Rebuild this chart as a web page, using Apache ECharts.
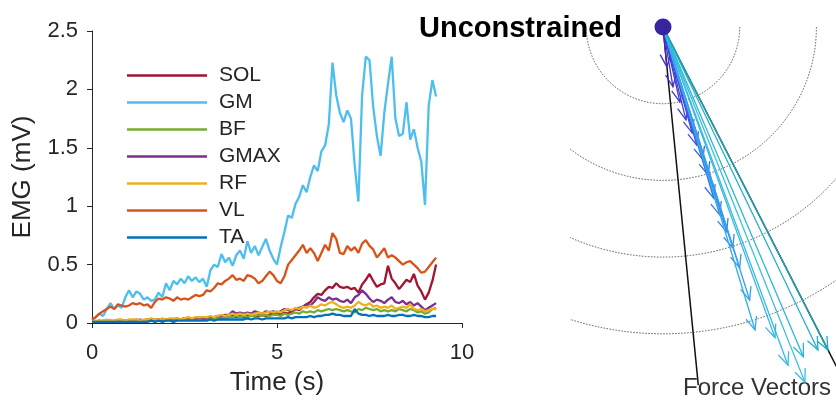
<!DOCTYPE html>
<html>
<head>
<meta charset="utf-8">
<script src="https://cdn.jsdelivr.net/npm/echarts@6/dist/echarts.min.js"></script>
<style>
  html, body { margin: 0; padding: 0; background: #fff; }
  #chart { width: 836px; height: 401px; }
</style>
</head>
<body>
<div id="chart"></div>
<script>
// EMG traces, sampled every 0.1 s
const TIME = [
  0.0, 0.1, 0.2, 0.3, 0.4, 0.5, 0.6, 0.7, 0.8, 0.9,
  1.0, 1.1, 1.2, 1.3, 1.4, 1.5, 1.6, 1.7, 1.8, 1.9,
  2.0, 2.1, 2.2, 2.3, 2.4, 2.5, 2.6, 2.7, 2.8, 2.9,
  3.0, 3.1, 3.2, 3.3, 3.4, 3.5, 3.6, 3.7, 3.8, 3.9,
  4.0, 4.1, 4.2, 4.3, 4.4, 4.5, 4.6, 4.7, 4.8, 4.9,
  5.0, 5.1, 5.2, 5.3, 5.4, 5.5, 5.6, 5.7, 5.8, 5.9,
  6.0, 6.1, 6.2, 6.3, 6.4, 6.5, 6.6, 6.7, 6.8, 6.9,
  7.0, 7.1, 7.2, 7.3, 7.4, 7.5, 7.6, 7.7, 7.8, 7.9,
  8.0, 8.1, 8.2, 8.3, 8.4, 8.5, 8.6, 8.7, 8.8, 8.9,
  9.0, 9.1, 9.2, 9.3
];

const SOL = [
  0.01, 0.01, 0.02, 0.01, 0.02, 0.02, 0.01, 0.02, 0.02, 0.02,
  0.02, 0.02, 0.03, 0.02, 0.02, 0.03, 0.02, 0.03, 0.03, 0.02,
  0.03, 0.03, 0.02, 0.03, 0.03, 0.04, 0.03, 0.03, 0.04, 0.03,
  0.04, 0.03, 0.04, 0.04, 0.05, 0.04, 0.05, 0.05, 0.06, 0.05,
  0.06, 0.05, 0.06, 0.07, 0.06, 0.06, 0.07, 0.06, 0.07, 0.08,
  0.07, 0.08, 0.09, 0.08, 0.10, 0.12, 0.11, 0.14, 0.16, 0.18,
  0.22, 0.25, 0.24, 0.28, 0.31, 0.30, 0.34, 0.31, 0.30, 0.31,
  0.29, 0.30, 0.26, 0.33, 0.37, 0.42, 0.36, 0.31, 0.33, 0.34,
  0.49, 0.38, 0.34, 0.29, 0.33, 0.37, 0.35, 0.42, 0.32, 0.27,
  0.20, 0.26, 0.36, 0.50
];

const GM = [
  0.03, 0.05, 0.08, 0.06, 0.12, 0.17, 0.12, 0.15, 0.13, 0.22,
  0.28, 0.22, 0.27, 0.25, 0.20, 0.22, 0.19, 0.20, 0.26, 0.22,
  0.34, 0.28, 0.36, 0.33, 0.38, 0.34, 0.40, 0.36, 0.39, 0.35,
  0.38, 0.31, 0.45, 0.50, 0.48, 0.59, 0.52, 0.56, 0.49, 0.58,
  0.62, 0.55, 0.70, 0.60, 0.66, 0.58, 0.65, 0.72, 0.62, 0.55,
  0.50, 0.65, 0.78, 0.92, 0.90, 1.02, 1.08, 1.18, 1.12, 1.25,
  1.35, 1.30, 1.47, 1.52, 1.70, 2.23, 1.95, 1.80, 1.72, 1.82,
  1.75, 1.35, 1.04, 1.95, 2.28, 2.25, 1.85, 1.60, 1.43, 1.80,
  2.05, 2.28, 1.75, 1.60, 1.62, 1.89, 1.57, 1.66, 1.50, 1.38,
  1.01, 1.86, 2.08, 1.94
];

const BF = [
  0.01, 0.01, 0.01, 0.01, 0.02, 0.01, 0.01, 0.02, 0.02, 0.01,
  0.02, 0.02, 0.01, 0.02, 0.02, 0.02, 0.02, 0.02, 0.03, 0.02,
  0.02, 0.03, 0.02, 0.03, 0.03, 0.03, 0.03, 0.03, 0.04, 0.03,
  0.04, 0.04, 0.03, 0.04, 0.04, 0.05, 0.04, 0.05, 0.05, 0.06,
  0.05, 0.06, 0.05, 0.06, 0.06, 0.07, 0.06, 0.07, 0.06, 0.07,
  0.07, 0.06, 0.08, 0.07, 0.08, 0.09, 0.08, 0.10, 0.09, 0.10,
  0.09, 0.11, 0.10, 0.11, 0.12, 0.11, 0.12, 0.11, 0.10, 0.11,
  0.10, 0.09, 0.12, 0.11, 0.13, 0.12, 0.11, 0.12, 0.10, 0.11,
  0.10, 0.11, 0.10, 0.12, 0.11, 0.10, 0.12, 0.11, 0.09, 0.10,
  0.08, 0.09, 0.12, 0.13
];

const GMAX = [
  0.01, 0.01, 0.01, 0.02, 0.02, 0.01, 0.02, 0.02, 0.02, 0.02,
  0.02, 0.02, 0.02, 0.03, 0.02, 0.03, 0.03, 0.02, 0.03, 0.03,
  0.03, 0.03, 0.03, 0.04, 0.03, 0.04, 0.04, 0.04, 0.04, 0.05,
  0.04, 0.05, 0.05, 0.05, 0.06, 0.06, 0.07, 0.07, 0.10, 0.08,
  0.09, 0.08, 0.09, 0.08, 0.10, 0.09, 0.08, 0.10, 0.09, 0.10,
  0.09, 0.10, 0.12, 0.11, 0.10, 0.12, 0.13, 0.14, 0.16, 0.15,
  0.18, 0.22, 0.20, 0.19, 0.22, 0.20, 0.21, 0.19, 0.18, 0.20,
  0.17, 0.22, 0.24, 0.28, 0.25, 0.21, 0.18, 0.20, 0.19, 0.17,
  0.20, 0.22, 0.18, 0.17, 0.19, 0.16, 0.18, 0.15, 0.17, 0.14,
  0.11, 0.13, 0.15, 0.17
];

const RF = [
  0.01, 0.02, 0.02, 0.02, 0.03, 0.02, 0.02, 0.03, 0.03, 0.02,
  0.03, 0.03, 0.03, 0.02, 0.03, 0.03, 0.04, 0.03, 0.03, 0.04,
  0.03, 0.04, 0.04, 0.04, 0.03, 0.04, 0.05, 0.04, 0.05, 0.05,
  0.05, 0.05, 0.06, 0.05, 0.06, 0.07, 0.06, 0.07, 0.08, 0.07,
  0.08, 0.07, 0.08, 0.07, 0.08, 0.09, 0.08, 0.09, 0.10, 0.09,
  0.10, 0.09, 0.11, 0.12, 0.11, 0.13, 0.12, 0.14, 0.13, 0.15,
  0.13, 0.14, 0.16, 0.15, 0.17, 0.18, 0.16, 0.14, 0.13, 0.14,
  0.13, 0.15, 0.18, 0.16, 0.15, 0.17, 0.14, 0.15, 0.13, 0.14,
  0.13, 0.15, 0.12, 0.13, 0.14, 0.13, 0.16, 0.12, 0.11, 0.12,
  0.10, 0.11, 0.12, 0.12
];

const VL = [
  0.03, 0.05, 0.08, 0.10, 0.12, 0.14, 0.12, 0.16, 0.15, 0.14,
  0.15, 0.17, 0.16, 0.17, 0.15, 0.16, 0.13, 0.18, 0.21, 0.20,
  0.22, 0.21, 0.19, 0.22, 0.20, 0.21, 0.20, 0.22, 0.24, 0.23,
  0.24, 0.28, 0.27, 0.30, 0.34, 0.33, 0.36, 0.38, 0.41, 0.37,
  0.38, 0.36, 0.41, 0.40, 0.38, 0.34, 0.36, 0.40, 0.44, 0.41,
  0.36, 0.34, 0.40, 0.50, 0.54, 0.58, 0.62, 0.67, 0.60, 0.64,
  0.60, 0.53, 0.60, 0.67, 0.62, 0.77, 0.72, 0.60, 0.59, 0.66,
  0.62, 0.65, 0.60, 0.68, 0.71, 0.66, 0.63, 0.56, 0.60, 0.64,
  0.56, 0.58, 0.56, 0.53, 0.50, 0.52, 0.53, 0.50, 0.47, 0.43,
  0.44, 0.48, 0.52, 0.56
];

const TA = [
  0.01, 0.01, 0.01, 0.01, 0.01, 0.01, 0.01, 0.01, 0.01, 0.01,
  0.01, 0.01, 0.01, 0.01, 0.01, 0.01, 0.02, 0.01, 0.02, 0.01,
  0.02, 0.02, 0.01, 0.02, 0.02, 0.02, 0.02, 0.02, 0.02, 0.02,
  0.02, 0.02, 0.03, 0.02, 0.03, 0.03, 0.03, 0.03, 0.03, 0.03,
  0.03, 0.03, 0.04, 0.03, 0.04, 0.04, 0.03, 0.04, 0.04, 0.04,
  0.04, 0.04, 0.04, 0.05, 0.04, 0.05, 0.05, 0.05, 0.05, 0.06,
  0.05, 0.06, 0.06, 0.07, 0.07, 0.08, 0.07, 0.07, 0.06, 0.06,
  0.06, 0.12, 0.08, 0.07, 0.07, 0.06, 0.07, 0.06, 0.06, 0.06,
  0.07, 0.06, 0.06, 0.07, 0.07, 0.06, 0.06, 0.07, 0.06, 0.06,
  0.05, 0.05, 0.06, 0.06
];

const MUSCLES = ['SOL', 'GM', 'BF', 'GMAX', 'RF', 'VL', 'TA'];
const MUSCLE_DATA = [SOL, GM, BF, GMAX, RF, VL, TA];
const MUSCLE_COLORS = ['#A2142F', '#4DBEEE', '#77AC30', '#7E2F8E', '#EDB120', '#D95319', '#0072BD'];

const X_TICKS = [0, 5, 10];
const Y_TICKS = [0, 0.5, 1, 1.5, 2, 2.5];

// force vector panel, in units of the innermost ring radius
const RING_RADII = [1, 2, 3, 4];
const FORCE_X = [0.05, 0.13, 0.22, 0.30, 0.38, 0.44, 0.52, 0.59, 0.66, 0.74, 0.83,
                 0.91, 1.00, 1.13, 1.20, 1.46, 1.63, 1.85, 1.83, 2.02, 2.15];
const FORCE_Y = [-0.52, -0.78, -0.98, -1.21, -1.38, -1.54, -1.73, -1.93, -2.23, -2.45, -2.67,
                 -2.88, -3.14, -3.56, -3.95, -4.05, -4.41, -4.63, -4.30, -4.21, -4.21];
const FORCE_COLORS = ['#4528C8', '#4530CC', '#4338D2', '#4240D6', '#4048DA', '#3E52DE', '#3C5CE2',
                      '#3A66E6', '#3870EA', '#377AEE', '#3584F0', '#348EF0', '#3398EE', '#33A2EC',
                      '#35ACEA', '#36B4E6', '#36BAE2', '#35BEE0', '#2CB8D4', '#22B2C8', '#1AACBE'];
const CONE_X = [0.46, 2.6];
const CONE_Y = [-4.67, -5.09];

(function () {
  const FONT = 'Liberation Sans, Arial, Helvetica, sans-serif';
  const AXIS_COLOR = '#262626';

  // layout of the right panel: pixel position of the origin and px per unit
  const PANEL_LEFT = 570, PANEL_RIGHT = 836, PANEL_H = 401;
  const ORIGIN = [663, 27];
  const SCALE = 76.7;

  const chart = echarts.init(document.getElementById('chart'));

  const emgSeries = MUSCLES.map((name, i) => ({
    name: name,
    type: 'line',
    xAxisIndex: 0,
    yAxisIndex: 0,
    data: TIME.map((t, k) => [t, MUSCLE_DATA[i][k]]),
    symbol: 'none',
    showSymbol: false,
    lineStyle: { color: MUSCLE_COLORS[i], width: 2.3 },
    itemStyle: { color: MUSCLE_COLORS[i] },
    silent: true
  }));

  function renderRing(params, api) {
    const c = api.coord([0, 0]);
    const r = api.size([api.value(0), 0])[0];
    return {
      type: 'arc',
      shape: { cx: c[0], cy: c[1], r: r, startAngle: 0, endAngle: Math.PI, clockwise: true },
      style: { stroke: '#555', fill: null, lineWidth: 1, lineDash: [1.5, 1.5] }
    };
  }

  function renderCone(params, api) {
    const o = api.coord([0, 0]);
    const p = api.coord([api.value(0), api.value(1)]);
    return {
      type: 'line',
      shape: { x1: o[0], y1: o[1], x2: p[0], y2: p[1] },
      style: { stroke: '#111', lineWidth: 1.5 }
    };
  }

  function renderVector(params, api) {
    const o = api.coord([0, 0]);
    const p = api.coord([api.value(0), api.value(1)]);
    const ang = Math.atan2(p[1] - o[1], p[0] - o[0]);
    const L = 14, a = 0.4;
    const h1 = [p[0] - L * Math.cos(ang - a), p[1] - L * Math.sin(ang - a)];
    const h2 = [p[0] - L * Math.cos(ang + a), p[1] - L * Math.sin(ang + a)];
    const col = FORCE_COLORS[params.dataIndex];
    return {
      type: 'group',
      children: [
        { type: 'line', shape: { x1: o[0], y1: o[1], x2: p[0], y2: p[1] }, style: { stroke: col, lineWidth: 1.3 } },
        { type: 'polyline', shape: { points: [h1, p, h2] }, style: { stroke: col, fill: null, lineWidth: 1.3 } }
      ]
    };
  }

  chart.setOption({
    animation: false,
    backgroundColor: '#fff',
    textStyle: { fontFamily: FONT },
    grid: [
      { left: 92, top: 31, right: 374, bottom: 75 },
      { left: PANEL_LEFT, top: 0, width: PANEL_RIGHT - PANEL_LEFT, height: PANEL_H }
    ],
    legend: {
      data: MUSCLES,
      orient: 'vertical',
      left: 127,
      top: 65,
      padding: 0,
      icon: 'rect',
      itemWidth: 80,
      itemHeight: 2.5,
      itemGap: 6,
      textStyle: { fontSize: 21, color: AXIS_COLOR, fontFamily: FONT, padding: [0, 0, 0, 7] }
    },
    xAxis: [
      {
        type: 'value', gridIndex: 0,
        min: X_TICKS[0], max: X_TICKS[X_TICKS.length - 1], interval: X_TICKS[1] - X_TICKS[0],
        name: 'Time (s)', nameLocation: 'middle', nameGap: 47,
        nameTextStyle: { fontSize: 26, color: AXIS_COLOR, fontFamily: FONT },
        axisLine: { lineStyle: { color: AXIS_COLOR, width: 1 } },
        axisTick: { inside: false, length: 5, lineStyle: { color: AXIS_COLOR } },
        axisLabel: { fontSize: 22, color: AXIS_COLOR, margin: 19, fontFamily: FONT },
        splitLine: { show: false }
      },
      {
        type: 'value', gridIndex: 1,
        min: (PANEL_LEFT - ORIGIN[0]) / SCALE, max: (PANEL_RIGHT - ORIGIN[0]) / SCALE,
        show: false
      }
    ],
    yAxis: [
      {
        type: 'value', gridIndex: 0,
        min: Y_TICKS[0], max: Y_TICKS[Y_TICKS.length - 1], interval: Y_TICKS[1] - Y_TICKS[0],
        name: 'EMG (mV)', nameLocation: 'middle', nameGap: 56, nameRotate: 90,
        nameTextStyle: { fontSize: 26, color: AXIS_COLOR, fontFamily: FONT },
        axisLine: { show: true, lineStyle: { color: AXIS_COLOR, width: 1 } },
        axisTick: { show: true, inside: false, length: 5, lineStyle: { color: AXIS_COLOR } },
        axisLabel: { fontSize: 22, color: AXIS_COLOR, margin: 14, fontFamily: FONT },
        splitLine: { show: false }
      },
      {
        type: 'value', gridIndex: 1,
        min: -(PANEL_H - ORIGIN[1]) / SCALE, max: ORIGIN[1] / SCALE,
        show: false
      }
    ],
    graphic: [
      {
        type: 'text', right: 836 - 622, top: 14,
        style: { text: 'Unconstrained', font: 'bold 29px ' + FONT, fill: '#000' }
      },
      {
        type: 'text', left: 683, top: 376,
        style: { text: 'Force Vectors', font: '24px ' + FONT, fill: '#333' }
      }
    ],
    series: emgSeries.concat([
      {
        type: 'custom', name: 'rings', xAxisIndex: 1, yAxisIndex: 1, clip: true, silent: true,
        data: RING_RADII.map(r => [r]),
        renderItem: renderRing
      },
      {
        type: 'custom', name: 'cone', xAxisIndex: 1, yAxisIndex: 1, clip: true, silent: true,
        data: CONE_X.map((x, i) => [x, CONE_Y[i]]),
        renderItem: renderCone
      },
      {
        type: 'custom', name: 'forces', xAxisIndex: 1, yAxisIndex: 1, clip: true, silent: true,
        data: FORCE_X.map((x, i) => [x, FORCE_Y[i]]),
        renderItem: renderVector
      },
      {
        type: 'scatter', name: 'origin', xAxisIndex: 1, yAxisIndex: 1, silent: true,
        data: [[0, 0]], symbolSize: 17,
        itemStyle: { color: '#3A239F', opacity: 1 }
      }
    ])
  });
})();
</script>
</body>
</html>
